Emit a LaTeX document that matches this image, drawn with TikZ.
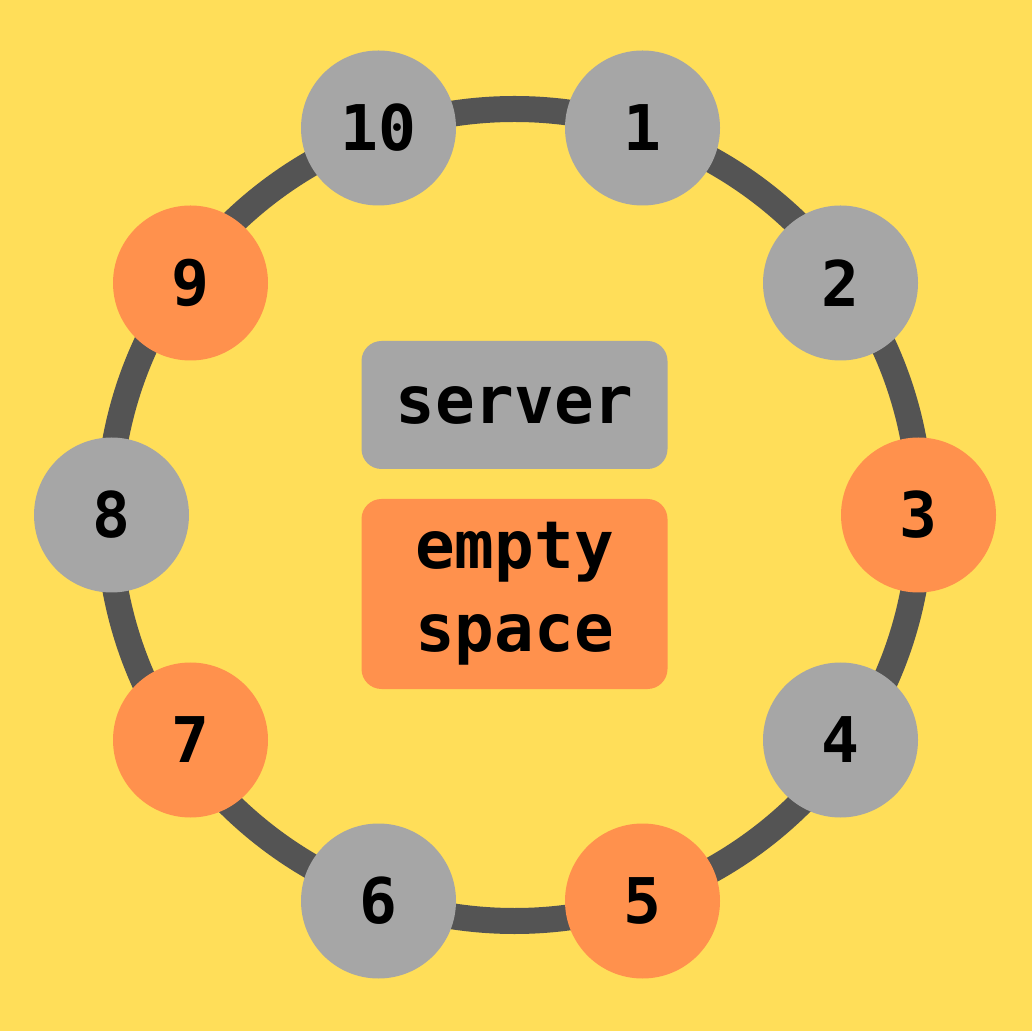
\documentclass[tikz,border=0pt]{standalone}
\usepackage{fontspec}
\setmonofont{DejaVu Sans Mono}
\definecolor{bgyellow}{HTML}{FFDE59}
\definecolor{slotgrey}{HTML}{A6A6A6}
\definecolor{slotorange}{HTML}{FF914D}
\definecolor{ringgrey}{HTML}{545454}

\begin{document}
\begin{tikzpicture}[x=1pt,y=1pt,
  slot/.style={circle, minimum size=155pt, inner sep=0pt,
               font=\ttfamily\bfseries\fontsize{63}{70}\selectfont},
  usedslot/.style={slot, fill=slotgrey},
  freeslot/.style={slot, fill=slotorange},
  legend/.style={rounded corners=20pt, minimum width=306pt, inner sep=0pt,
                 align=center, font=\ttfamily\bfseries\fontsize{66}{83}\selectfont}]

  % background
  \fill[bgyellow] (0,0) rectangle (1032,1031);
  \useasboundingbox (0,0) rectangle (1032,1031);

\begin{scope}[shift={(514.5,516)}]
  \coordinate (c) at (0,0);

  % ring
  \draw[ringgrey, line width=26pt] (c) circle[radius=406];

  % slots
  \foreach \i/\kind/\px/\py in {1/used/128/387, 2/used/326/232, 3/free/404/0,
                                4/used/326/-225, 5/free/128/-386, 6/used/-136/-386,
                                7/free/-324/-225, 8/used/-403/0, 9/free/-324/232,
                                10/used/-136/387}
    \node[\kind slot] (n\i) at (\px,\py) {\i};

  % legend
  \node[legend, fill=slotgrey, minimum height=128pt] (lserver) at (0,110) {server};
  \node[legend, fill=slotorange, minimum height=190pt] (lfree) at (0,-79) {empty\\space};
\end{scope}

\end{tikzpicture}
\end{document}
